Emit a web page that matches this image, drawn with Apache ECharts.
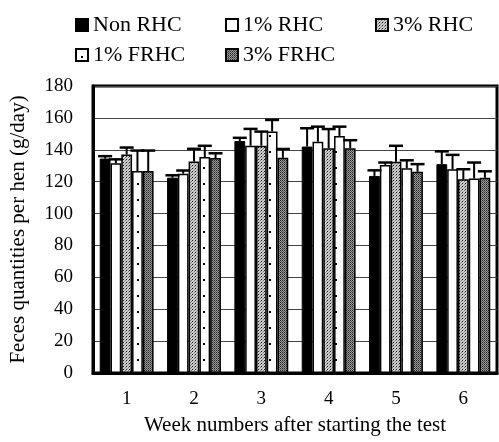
<!DOCTYPE html>
<html>
<head>
<meta charset="utf-8">
<title>Feces quantities per hen</title>
<script src="https://cdn.jsdelivr.net/npm/echarts@6/dist/echarts.min.js"></script>
<style>
  html, body { margin: 0; padding: 0; background: #fff; }
  #main { width: 499px; height: 442px; }
</style>
</head>
<body>
<div id="main"></div>
<script type="text/javascript">
    // data
    var weeks = ['1', '2', '3', '4', '5', '6'];
    var seriesNames = ['Non RHC', '1% RHC', '3% RHC', '1% FRHC', '3% FRHC'];

    var nonRHC   = [134.5, 122.5, 145.5, 142.0, 123.6, 131.0];
    var rhc1     = [131.5, 125.0, 142.6, 145.0, 130.5, 127.8];
    var rhc3     = [137.0, 132.6, 142.6, 141.0, 132.5, 121.5];
    var frhc1    = [126.7, 135.5, 151.5, 148.7, 128.4, 122.0];
    var frhc3    = [126.7, 134.8, 135.0, 141.0, 126.2, 122.5];

    // upper error (SE) for each mean
    var nonRHCErr = [1.5, 1.5, 2.0, 11.5, 3.5, 8.0];
    var rhc1Err   = [2.5, 2.0, 10.5, 9.5, 1.5, 9.0];
    var rhc3Err   = [4.4, 8.0, 8.8, 12.0, 10.0, 6.3];
    var frhc1Err  = [12.8, 7.0, 7.2, 5.8, 5.0, 10.0];
    var frhc3Err  = [12.8, 3.0, 5.5, 5.0, 4.8, 4.0];

    var yTicks = [0, 20, 40, 60, 80, 100, 120, 140, 160, 180];

    var means = [nonRHC, rhc1, rhc3, frhc1, frhc3];
    var errs = [nonRHCErr, rhc1Err, rhc3Err, frhc1Err, frhc3Err];

    // small canvas tiles used as hatch fills
    function makeTile(w, h, bg, dots) {
        var c = document.createElement('canvas');
        c.width = w; c.height = h;
        var ctx = c.getContext('2d');
        ctx.fillStyle = bg;
        ctx.fillRect(0, 0, w, h);
        for (var i = 0; i < dots.length; i++) {
            ctx.fillStyle = dots[i][2];
            ctx.fillRect(dots[i][0], dots[i][1], dots[i][3] || 1, dots[i][3] || 1);
        }
        return { image: c, repeat: 'repeat' };
    }

    var lightStipple = makeTile(3, 3, '#cfcfcf', [[0, 0, '#111'], [2, 1, '#777'], [1, 2, '#999']]);
    var darkStipple = makeTile(2, 2, '#9a9a9a', [[0, 0, '#222'], [1, 1, '#555']]);
    var dotFill = makeTile(11, 16, '#fff', [[5, 7, '#000', 2]]);

    var styles = [
        { color: '#000', borderColor: '#000', borderWidth: 1 },
        { color: '#fff', borderColor: '#000', borderWidth: 1.5 },
        { color: lightStipple, borderColor: '#000', borderWidth: 1.5 },
        { color: dotFill, borderColor: '#000', borderWidth: 1.5 },
        { color: darkStipple, borderColor: '#000', borderWidth: 1.5 }
    ];

    var GAP = 0.2;
    var N = seriesNames.length;

    function errorRenderer(k) {
        return function (params, api) {
            var idx = api.value(0);
            var m = api.value(1);
            var e = api.value(2);
            var band = api.size([1, 0])[0];
            var bw = band * (1 - GAP) / N;
            var base = api.coord([idx, m]);
            var top = api.coord([idx, m + e]);
            var x = base[0] - band * (1 - GAP) / 2 + bw * (k + 0.5);
            var half = bw * 0.65;
            return {
                type: 'group',
                children: [
                    { type: 'line', shape: { x1: x, y1: base[1], x2: x, y2: top[1] },
                      style: { stroke: '#000', lineWidth: 2 } },
                    { type: 'line', shape: { x1: x - half, y1: top[1], x2: x + half, y2: top[1] },
                      style: { stroke: '#000', lineWidth: 2.5 } }
                ]
            };
        };
    }

    var series = [];
    for (var k = 0; k < N; k++) {
        series.push({
            name: seriesNames[k],
            type: 'bar',
            data: means[k],
            barGap: '0%',
            barCategoryGap: (GAP * 100) + '%',
            itemStyle: styles[k],
            z: 2
        });
    }
    for (var k = 0; k < N; k++) {
        var d = [];
        for (var i = 0; i < weeks.length; i++) {
            d.push([i, means[k][i], errs[k][i]]);
        }
        series.push({
            type: 'custom',
            renderItem: errorRenderer(k),
            data: d,
            z: 3,
            silent: true
        });
    }

    // one legend block per item so the columns line up like the figure
    var legendPos = [[70, 8], [220, 8], [370, 8], [70, 38], [220, 38]];
    var legends = [];
    for (var k = 0; k < N; k++) {
        legends.push({
            left: legendPos[k][0],
            top: legendPos[k][1],
            data: [seriesNames[k]],
            icon: 'rect',
            itemWidth: 12,
            itemHeight: 12,
            itemGap: 0,
            selectedMode: false,
            textStyle: {
                fontFamily: 'Liberation Serif',
                fontSize: 22,
                color: '#000',
                lineHeight: 24
            }
        });
    }

    var myChart = echarts.init(document.getElementById('main'));
    var option = {
        animation: false,
        backgroundColor: '#fff',
        textStyle: { fontFamily: 'Liberation Serif' },
        legend: legends,
        grid: {
            left: 92,
            right: 2,
            top: 86,
            bottom: 69,
            show: true,
            borderColor: '#000',
            borderWidth: 3,
            backgroundColor: 'transparent'
        },
        xAxis: {
            type: 'category',
            data: weeks,
            name: 'Week numbers after starting the test',
            nameLocation: 'middle',
            nameGap: 42,
            nameTextStyle: { fontFamily: 'Liberation Serif', fontSize: 21, color: '#000' },
            axisLine: { lineStyle: { color: '#000', width: 3 } },
            axisTick: { show: false },
            axisLabel: { fontFamily: 'Liberation Serif', fontSize: 19, color: '#000', margin: 17 },
            splitLine: { show: false }
        },
        yAxis: {
            type: 'value',
            min: yTicks[0],
            max: yTicks[yTicks.length - 1],
            interval: 20,
            name: 'Feces quantities per hen (g/day)',
            nameLocation: 'middle',
            nameGap: 64,
            nameTextStyle: { fontFamily: 'Liberation Serif', fontSize: 21, color: '#000' },
            axisLine: { show: true, lineStyle: { color: '#000', width: 3 } },
            axisTick: { show: false },
            axisLabel: { fontFamily: 'Liberation Serif', fontSize: 19, color: '#000', margin: 20 },
            splitLine: { show: true, lineStyle: { color: '#444', width: 1 } }
        },
        series: series
    };
    myChart.setOption(option);
</script>
</body>
</html>
